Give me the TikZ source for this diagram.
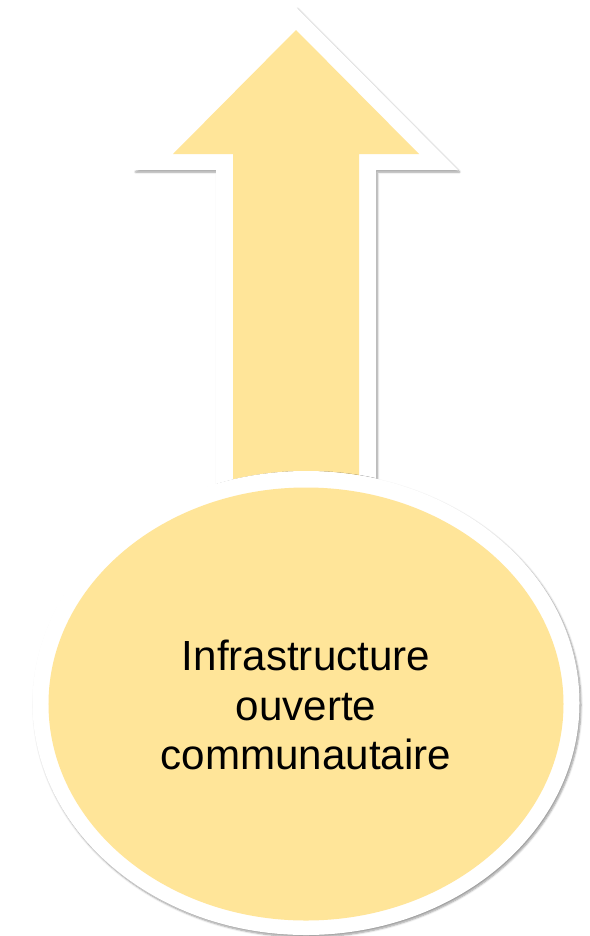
\documentclass[tikz,border=0pt]{standalone}
\usepackage{fontspec}
\setmainfont{Liberation Sans}
\usetikzlibrary{shapes.geometric,shadows.blur}
\definecolor{gold}{HTML}{FFE599}
\tikzset{
  outerwhite/.style={fill=white, draw=none, blur shadow={shadow xshift=1.5bp, shadow yshift=-2bp, shadow blur steps=6, shadow opacity=40, shadow blur radius=2bp}},
  innergold/.style={fill=gold, draw=none},
  ellbox/.style={ellipse, inner sep=0pt},
  lbl/.style={align=center, font=\fontsize{42.3}{50}\selectfont, text=black}
}
\begin{document}
\begin{tikzpicture}[x=1bp,y=-1bp]
\useasboundingbox (0,0) rectangle (590,936);
% arrow
\path[outerwhite] (296,7) -- (458,170) -- (376,170) -- (376,560) -- (216,560) -- (216,170) -- (134,170) -- cycle;
\path[innergold] (296,30) -- (419,154) -- (359,154) -- (359,560) -- (233,560) -- (233,154) -- (173,154) -- cycle;
% ellipse
\node[ellbox, outerwhite, minimum width=547bp, minimum height=464bp] (outer) at (306,703) {};
\node[ellbox, innergold, minimum width=515bp, minimum height=433bp] (inner) at (306,704) {};
\node[lbl] (txt) at (306,705) {Infrastructure\\ouverte\\communautaire};
\end{tikzpicture}
\end{document}
